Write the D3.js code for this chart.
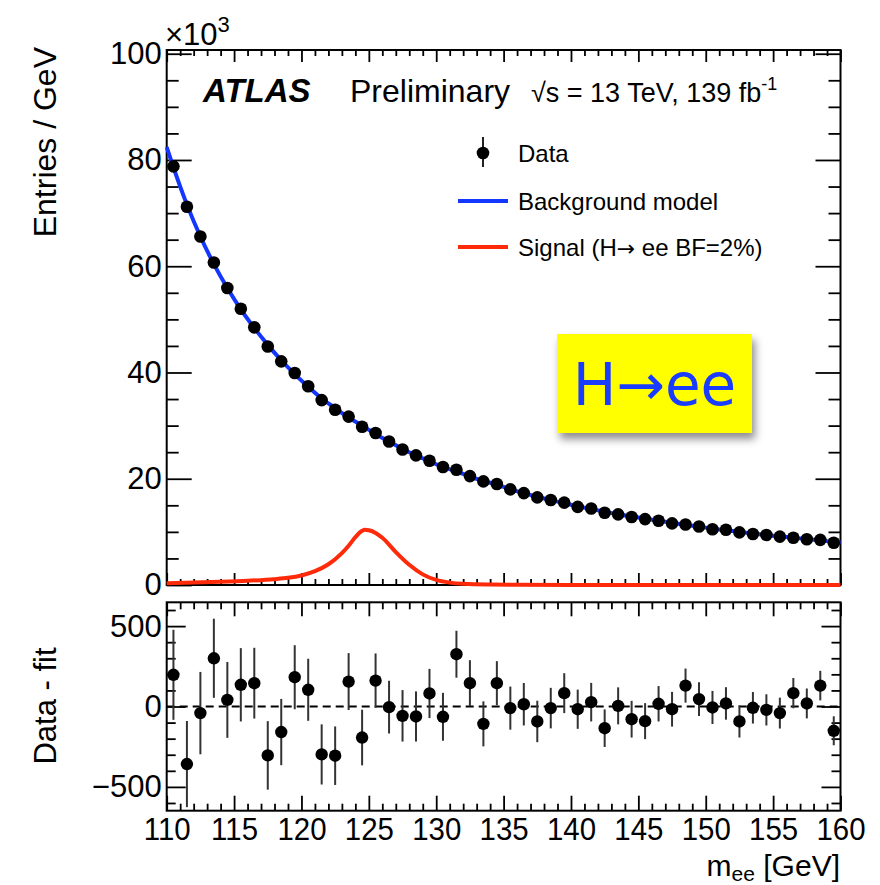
<!DOCTYPE html>
<html><head><meta charset="utf-8">
<script src="https://cdn.jsdelivr.net/npm/d3@7"></script>
<style>
body{margin:0;background:#fff}
svg text{font-family:"Liberation Sans",Arial,Helvetica,sans-serif;fill:#000}
</style>
</head><body>
<svg id="c" width="880" height="885"></svg>
<script>
// ---------------- data ----------------
const massBins = [110.5,111.5,112.5,113.5,114.5,115.5,116.5,117.5,118.5,119.5,
  120.5,121.5,122.5,123.5,124.5,125.5,126.5,127.5,128.5,129.5,
  130.5,131.5,132.5,133.5,134.5,135.5,136.5,137.5,138.5,139.5,
  140.5,141.5,142.5,143.5,144.5,145.5,146.5,147.5,148.5,149.5,
  150.5,151.5,152.5,153.5,154.5,155.5,156.5,157.5,158.5,159.5];
// entries / GeV in units of 10^3
const dataK = [78.8,71.2,65.6,60.7,55.9,52.0,48.5,44.9,42.1,39.9,
  37.4,34.8,33.0,31.7,29.8,28.6,27.0,25.5,24.4,23.4,
  22.2,21.7,20.5,19.5,19.0,18.0,17.3,16.5,16.0,15.5,
  14.7,14.4,13.6,13.3,12.8,12.4,12.1,11.6,11.4,11.0,
  10.5,10.4,9.9,9.6,9.4,9.1,8.9,8.6,8.5,7.95];
// data - fit
const residuals = [197,-358,-41,300,41,135,145,-304,-159,182,
  104,-298,-306,155,-193,161,-4,-58,-62,81,
  -64,325,145,-108,145,-10,14,-93,-10,83,
  -17,27,-135,4,-79,-91,17,-17,130,46,
  -6,19,-93,-8,-21,-41,83,19,130,-151];
const resErrors = [280,268,256,246,236,228,220,213,206,199,
  193,187,182,177,173,169,164,160,156,153,
  149,146,143,140,137,134,132,129,126,124,
  122,120,117,115,114,112,110,108,106,105,
  103,101,100,98,97,96,94,93,92,90];
// background model (10^3)
const bkgX = [110,110.5,111.5,112.5,113.5,114.5,115.5,116.5,117.5,118.5,119.5,
  120.5,121.5,122.5,123.5,124.5,125.5,126.5,127.5,128.5,129.5,
  130.5,131.5,132.5,133.5,134.5,135.5,136.5,137.5,138.5,139.5,
  140.5,141.5,142.5,143.5,144.5,145.5,146.5,147.5,148.5,149.5,
  150.5,151.5,152.5,153.5,154.5,155.5,156.5,157.5,158.5,159.5,160];
const bkgK = [82.4,78.6,71.6,65.6,60.4,55.9,51.9,48.4,45.2,42.3,39.7,
  37.3,35.1,33.3,31.5,30.0,28.4,27.0,25.6,24.4,23.3,
  22.2,21.4,20.4,19.6,18.9,18.0,17.3,16.6,16.0,15.4,
  14.8,14.3,13.8,13.3,12.9,12.5,12.1,11.7,11.3,11.0,
  10.6,10.3,10.0,9.7,9.4,9.15,8.9,8.65,8.4,8.1,7.98];
// signal (H->ee, BF=2%) (10^3)
const sigX = [110,112,114,116,118,119,120,121,122,123,123.5,124,124.5,124.7,125,125.5,126,127,128,129,130,131,132,134,136,140,150,160];
const sigK = [0.35,0.45,0.6,0.8,1.1,1.35,1.8,2.6,3.9,6.0,7.4,9.0,10.2,10.4,10.3,9.8,8.9,6.2,3.8,2.0,0.95,0.45,0.22,0.08,0.04,0.02,0.01,0.0];

const xMajor = [110,115,120,125,130,135,140,145,150,155,160];
const yTopMajor = [0,20,40,60,80,100];
const yBotMajor = [-500,0,500];

// ---------------- layout ----------------
const X0=166.7, X1=840.5, T0=50, T1=585, B0=602.3, B1=810.7;
const svg = d3.select("#c");
const x = d3.scaleLinear().domain([110,160]).range([X0,X1]);
const yT = d3.scaleLinear().domain([0,100.7]).range([T1,T0]);
const yB = d3.scaleLinear().domain([-648,648]).range([B1,B0]);

const xMinor = d3.range(110,161,1).filter(v=>v%5!==0);
const yTopMinor = d3.range(0,101,5).filter(v=>v%20!==0);
const yBotMinor = d3.range(-600,601,100).filter(v=>v%500!==0);

function styleAxis(g){
  g.select(".domain").remove();
  g.selectAll(".tick line").attr("stroke","#000").attr("stroke-width",1.8);
  g.selectAll(".tick text").style("font-size","31px").attr("fill","#000");
}
function ax(gen, tx, ty){
  const g = svg.append("g").attr("transform",`translate(${tx},${ty})`).call(gen);
  styleAxis(g); return g;
}

// ---- top panel ticks ----
ax(d3.axisBottom(x).tickValues(xMajor).tickSize(-12).tickFormat(""),0,T1);
ax(d3.axisBottom(x).tickValues(xMinor).tickSize(-6).tickFormat(""),0,T1);
ax(d3.axisTop(x).tickValues(xMajor).tickSize(-12).tickFormat(""),0,T0);
ax(d3.axisTop(x).tickValues(xMinor).tickSize(-6).tickFormat(""),0,T0);
ax(d3.axisLeft(yT).tickValues(yTopMajor).tickSize(-25).tickPadding(5).tickFormat(d3.format("d")),X0,0);
ax(d3.axisLeft(yT).tickValues(yTopMinor).tickSize(-12).tickFormat(""),X0,0);
ax(d3.axisRight(yT).tickValues(yTopMajor).tickSize(-25).tickFormat(""),X1,0);
ax(d3.axisRight(yT).tickValues(yTopMinor).tickSize(-12).tickFormat(""),X1,0);

// ---- bottom panel ticks ----
const gxb = ax(d3.axisBottom(x).tickValues(xMajor).tickSize(-15).tickPadding(7).tickFormat(d3.format("d")),0,B1);
gxb.selectAll(".tick text").style("font-size","32px").attr("transform","scale(0.92,1)");
ax(d3.axisBottom(x).tickValues(xMinor).tickSize(-7).tickFormat(""),0,B1);
ax(d3.axisTop(x).tickValues(xMajor).tickSize(-14).tickFormat(""),0,B0);
ax(d3.axisTop(x).tickValues(xMinor).tickSize(-7).tickFormat(""),0,B0);
ax(d3.axisLeft(yB).tickValues(yBotMajor).tickSize(-19).tickPadding(5).tickFormat(d3.format("d")),X0,0);
ax(d3.axisLeft(yB).tickValues(yBotMinor).tickSize(-9).tickFormat(""),X0,0);
ax(d3.axisRight(yB).tickValues(yBotMajor).tickSize(-19).tickFormat(""),X1,0);
ax(d3.axisRight(yB).tickValues(yBotMinor).tickSize(-9).tickFormat(""),X1,0);

// frames
svg.append("rect").attr("x",X0).attr("y",T0).attr("width",X1-X0).attr("height",T1-T0)
  .attr("fill","none").attr("stroke","#000").attr("stroke-width",2);
svg.append("rect").attr("x",X0).attr("y",B0).attr("width",X1-X0).attr("height",B1-B0)
  .attr("fill","none").attr("stroke","#000").attr("stroke-width",2);

// ---- H->ee box ----
const defs = svg.append("defs");
const f = defs.append("filter").attr("id","sh").attr("x","-20%").attr("y","-20%").attr("width","150%").attr("height","160%");
f.append("feDropShadow").attr("dx",3).attr("dy",6).attr("stdDeviation",4).attr("flood-color","#000").attr("flood-opacity",0.45);
svg.append("rect").attr("x",557).attr("y",334).attr("width",195).attr("height",99)
  .attr("fill","#ffff00").attr("filter","url(#sh)");
svg.append("text").attr("x",654.5).attr("y",405).attr("text-anchor","middle")
  .style("font-family","'DejaVu Sans',Verdana,sans-serif").style("font-size","58px")
  .style("fill","#1a3cff").text("H→ee");

// ---- curves ----
const lineB = d3.line().x((d,i)=>x(bkgX[i])).y(d=>yT(d)).curve(d3.curveMonotoneX);
svg.append("path").attr("d",lineB(bkgK)).attr("fill","none").attr("stroke","#1437ff").attr("stroke-width",4);
const lineS = d3.line().x((d,i)=>x(sigX[i])).y(d=>yT(d)).curve(d3.curveMonotoneX);
svg.append("path").attr("d",lineS(sigK)).attr("fill","none").attr("stroke","#ff2a0a").attr("stroke-width",4);

// ---- data points top ----
const gd = svg.append("g");
gd.selectAll("line").data(dataK).join("line")
  .attr("x1",(d,i)=>x(massBins[i])).attr("x2",(d,i)=>x(massBins[i]))
  .attr("y1",(d,i)=>yT(d+resErrors[i]/1000)).attr("y2",(d,i)=>yT(d-resErrors[i]/1000))
  .attr("stroke","#222").attr("stroke-width",2);
gd.selectAll("circle").data(dataK).join("circle")
  .attr("cx",(d,i)=>x(massBins[i])).attr("cy",d=>yT(d)).attr("r",6.3).attr("fill","#000");

// ---- residual panel ----
svg.append("line").attr("x1",X0).attr("x2",X1).attr("y1",yB(0)).attr("y2",yB(0))
  .attr("stroke","#000").attr("stroke-width",1.8).attr("stroke-dasharray","8,5");
const gr = svg.append("g");
gr.selectAll("line").data(residuals).join("line")
  .attr("x1",(d,i)=>x(massBins[i])).attr("x2",(d,i)=>x(massBins[i]))
  .attr("y1",(d,i)=>yB(d+resErrors[i])).attr("y2",(d,i)=>yB(d-resErrors[i]))
  .attr("stroke","#333").attr("stroke-width",2);
gr.selectAll("circle").data(residuals).join("circle")
  .attr("cx",(d,i)=>x(massBins[i])).attr("cy",d=>yB(d)).attr("r",6.2).attr("fill","#000");

// ---- texts ----
const t1 = svg.append("text").attr("x",165).attr("y",45).style("font-size","31px");
t1.append("tspan").text("×10");
t1.append("tspan").attr("dy",-13).style("font-size","22px").text("3");

svg.append("text").attr("transform","translate(56,47) rotate(-90)").attr("text-anchor","end")
  .style("font-size","32px").text("Entries / GeV");
svg.append("text").attr("transform","translate(56,706) rotate(-90)").attr("text-anchor","middle")
  .style("font-size","31px").text("Data - fit");

const mt = svg.append("text").attr("x",840).attr("y",876).attr("text-anchor","end").style("font-size","30px");
mt.append("tspan").text("m");
mt.append("tspan").attr("dy",5).style("font-size","21px").text("ee");
mt.append("tspan").attr("dy",-5).text(" [GeV]");

svg.append("text").attr("x",203).attr("y",102).style("font-size","33px")
  .style("font-weight","bold").style("font-style","italic").text("ATLAS");
svg.append("text").attr("x",350).attr("y",102).style("font-size","32px").text("Preliminary");
const en = svg.append("text").attr("x",531).attr("y",102).style("font-size","27px");
en.append("tspan").text("√s = 13 TeV, 139 fb");
en.append("tspan").attr("dy",-12).style("font-size","18px").text("-1");

// ---- legend ----
svg.append("line").attr("x1",483).attr("x2",483).attr("y1",137).attr("y2",167).attr("stroke","#222").attr("stroke-width",2);
svg.append("circle").attr("cx",483).attr("cy",153).attr("r",6.3).attr("fill","#000");
svg.append("line").attr("x1",458).attr("x2",508).attr("y1",201).attr("y2",201).attr("stroke","#1437ff").attr("stroke-width",4);
svg.append("line").attr("x1",458).attr("x2",508).attr("y1",247).attr("y2",247).attr("stroke","#ff2a0a").attr("stroke-width",4);
svg.append("text").attr("x",518).attr("y",162).style("font-size","24px").text("Data");
svg.append("text").attr("x",518).attr("y",210).style("font-size","24px").text("Background model");
const sl = svg.append("text").attr("x",518).attr("y",256).style("font-size","24px");
sl.append("tspan").text("Signal (H");
sl.append("tspan").style("font-family","'DejaVu Sans',sans-serif").style("font-size","22px").text("→");
sl.append("tspan").text(" ee BF=2%)");
</script>
</body></html>
